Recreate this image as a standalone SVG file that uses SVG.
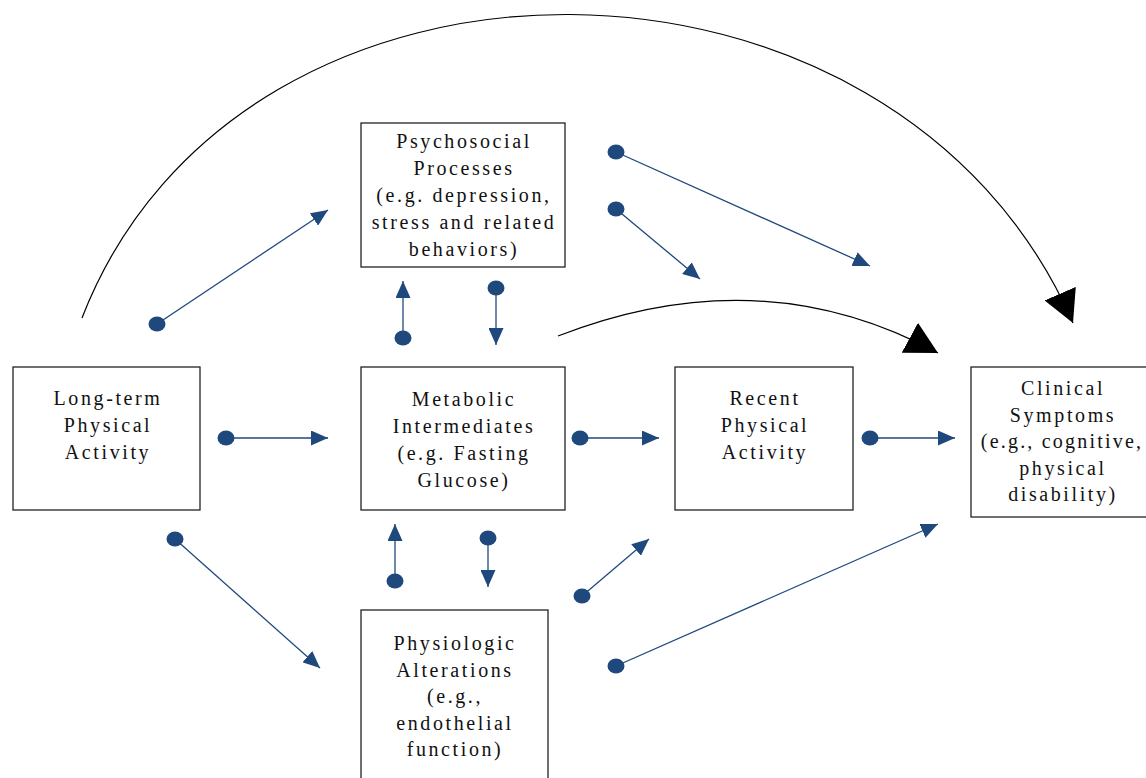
<svg xmlns="http://www.w3.org/2000/svg" width="1146" height="778" viewBox="0 0 1146 778">
  <style>
    .box { fill: #ffffff; stroke: #222222; stroke-width: 1.3; }
    .lbl { font-family: "Liberation Serif", "Times New Roman", serif; font-size: 20px; letter-spacing: 2.6px; fill: #111111; text-anchor: middle; }
    .lbl-tight { letter-spacing: 2.2px; }
    .link { stroke: #1F497D; stroke-width: 1.3; fill: none; marker-start: url(#dot); marker-end: url(#tri); }
    .arc { stroke: #000000; stroke-width: 1.2; fill: none; marker-end: url(#bigtri); }
  </style>
  <defs>
    <marker id="dot" markerUnits="userSpaceOnUse" markerWidth="20" markerHeight="18" refX="10" refY="9" orient="0">
      <ellipse cx="10" cy="9" rx="8.5" ry="7.5" fill="#1F497D"/>
    </marker>
    <marker id="tri" markerUnits="userSpaceOnUse" markerWidth="17" markerHeight="15" refX="17" refY="7.5" orient="auto">
      <path d="M0,0 L17,7.5 L0,15 Z" fill="#1F497D"/>
    </marker>
    <marker id="bigtri" markerUnits="userSpaceOnUse" markerWidth="32" markerHeight="34" refX="32" refY="17" orient="auto">
      <path d="M0,0 L32,17 L0,34 Z" fill="#000000"/>
    </marker>
  </defs>

  <!-- nodes -->
  <g id="long-term">
    <rect class="box" x="13" y="367" width="187" height="143"/>
    <text class="lbl" x="108" y="405">Long-term</text>
    <text class="lbl" x="108" y="432">Physical</text>
    <text class="lbl" x="108" y="459">Activity</text>
  </g>
  <g id="psychosocial">
    <rect class="box" x="361" y="123" width="204" height="144"/>
    <text class="lbl" x="464" y="148">Psychosocial</text>
    <text class="lbl" x="464" y="175">Processes</text>
    <text class="lbl" x="464" y="202">(e.g. depression,</text>
    <text class="lbl" x="464" y="229">stress and related</text>
    <text class="lbl" x="464" y="256">behaviors)</text>
  </g>
  <g id="metabolic">
    <rect class="box" x="361" y="367" width="204" height="143"/>
    <text class="lbl" x="464" y="406">Metabolic</text>
    <text class="lbl" x="464" y="433">Intermediates</text>
    <text class="lbl" x="464" y="460">(e.g. Fasting</text>
    <text class="lbl" x="464" y="487">Glucose)</text>
  </g>
  <g id="recent">
    <rect class="box" x="675" y="367" width="178" height="143"/>
    <text class="lbl" x="765" y="405">Recent</text>
    <text class="lbl" x="765" y="432">Physical</text>
    <text class="lbl" x="765" y="459">Activity</text>
  </g>
  <g id="clinical">
    <rect class="box" x="971" y="367" width="180" height="150"/>
    <text class="lbl" x="1063" y="395">Clinical</text>
    <text class="lbl" x="1063" y="421.5">Symptoms</text>
    <text class="lbl lbl-tight" x="1062" y="448">(e.g., cognitive,</text>
    <text class="lbl" x="1063" y="474.5">physical</text>
    <text class="lbl" x="1063" y="501">disability)</text>
  </g>
  <g id="physiologic">
    <rect class="box" x="361" y="610" width="187" height="180"/>
    <text class="lbl" x="455" y="650">Physiologic</text>
    <text class="lbl" x="455" y="676.5">Alterations</text>
    <text class="lbl" x="455" y="703">(e.g.,</text>
    <text class="lbl" x="455" y="729.5">endothelial</text>
    <text class="lbl" x="455" y="756">function)</text>
  </g>

  <!-- connectors -->
  <g id="connectors">
    <path class="arc" d="M82,318 C240,-90 895,-85 1073,323"/>
    <path class="arc" d="M558,336 Q761,257 938,353"/>

    <line class="link" x1="226" y1="438" x2="328" y2="438"/>
    <line class="link" x1="157" y1="324" x2="328" y2="210"/>
    <line class="link" x1="175" y1="539" x2="320" y2="668"/>
    <line class="link" x1="403" y1="338" x2="403" y2="281"/>
    <line class="link" x1="496" y1="288" x2="496" y2="345"/>
    <line class="link" x1="580" y1="438" x2="659" y2="438"/>
    <line class="link" x1="870" y1="438" x2="955" y2="438"/>
    <line class="link" x1="616" y1="152" x2="870" y2="266"/>
    <line class="link" x1="616" y1="209" x2="700" y2="279"/>
    <line class="link" x1="395" y1="581" x2="395" y2="524"/>
    <line class="link" x1="488" y1="538" x2="488" y2="587"/>
    <line class="link" x1="582" y1="596" x2="649" y2="539"/>
    <line class="link" x1="616" y1="666" x2="938" y2="524"/>
  </g>
</svg>
